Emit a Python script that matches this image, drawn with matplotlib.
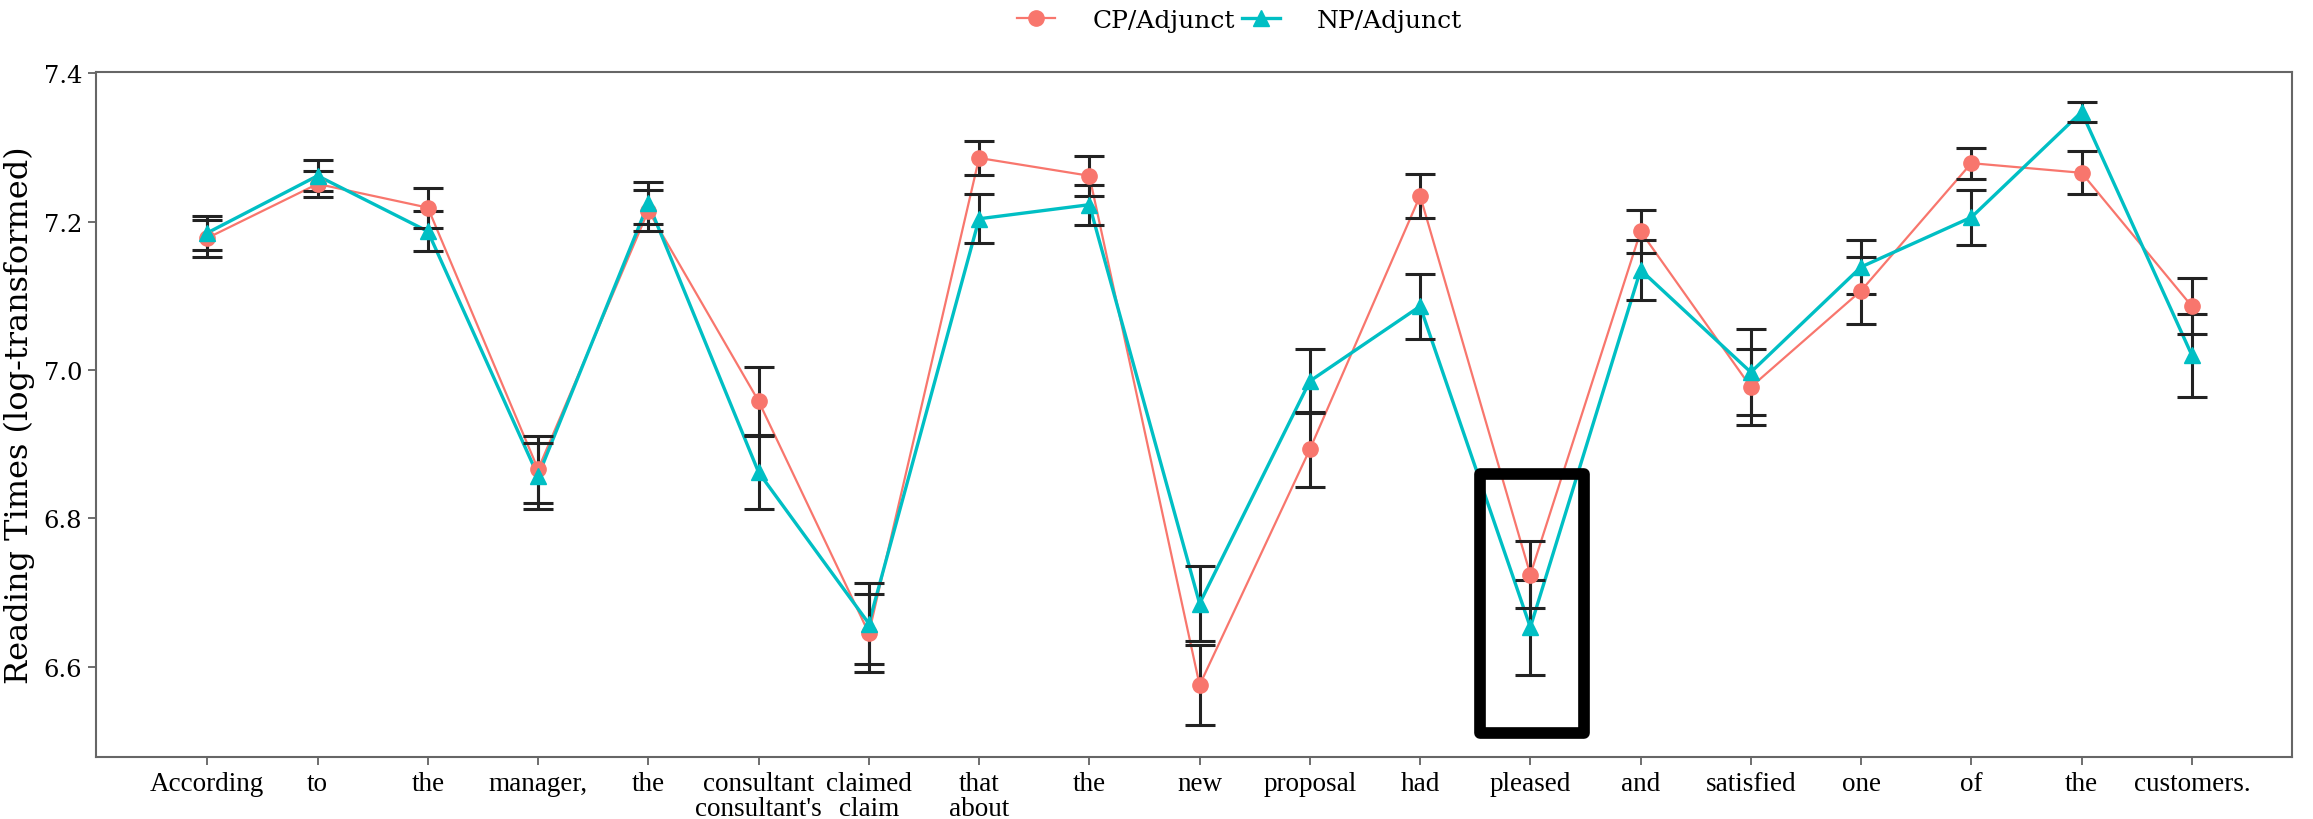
import matplotlib
matplotlib.use("Agg")
import matplotlib.pyplot as plt
from matplotlib.patches import Rectangle
import numpy as np

words = ["According", "to", "the", "manager,", "the", "consultant\nconsultant's",
         "claimed\nclaim", "that\nabout", "the", "new", "proposal", "had", "pleased",
         "and", "satisfied", "one", "of", "the", "customers."]

cp_mean = [7.178, 7.251, 7.219, 6.866, 7.215, 6.958, 6.645, 7.286, 7.262, 6.575,
           6.893, 7.235, 6.724, 7.187, 6.977, 7.107, 7.279, 7.266, 7.086]
cp_se = [0.025, 0.018, 0.027, 0.045, 0.028, 0.046, 0.053, 0.023, 0.027, 0.054,
         0.051, 0.030, 0.045, 0.029, 0.051, 0.045, 0.021, 0.029, 0.038]

np_mean = [7.185, 7.262, 7.187, 6.857, 7.225, 6.862, 6.658, 7.204, 7.223, 6.685,
           6.985, 7.086, 6.653, 7.135, 6.997, 7.139, 7.206, 7.348, 7.020]
np_se = [0.023, 0.021, 0.027, 0.044, 0.028, 0.049, 0.055, 0.033, 0.027, 0.050,
         0.043, 0.044, 0.064, 0.040, 0.058, 0.036, 0.037, 0.013, 0.056]

highlight = "pleased"

cp_col = "#F8766D"
np_col = "#00BFC4"

fig = plt.figure(figsize=(23.13, 8.2), dpi=100)
ax = fig.add_axes([0.0415, 0.0756, 0.9495, 0.8354])

x = np.arange(len(words))

ax.plot(x, cp_mean, color=cp_col, lw=1.6, zorder=2)
ax.plot(x, np_mean, color=np_col, lw=2.4, zorder=2)
ax.errorbar(x, cp_mean, yerr=cp_se, fmt="none", ecolor="#222222", elinewidth=2.2,
            capsize=11, capthick=2.2, zorder=3)
ax.errorbar(x, np_mean, yerr=np_se, fmt="none", ecolor="#222222", elinewidth=2.2,
            capsize=11, capthick=2.2, zorder=3)
ax.plot(x, cp_mean, "o", color=cp_col, ms=11, zorder=4, label="CP/Adjunct")
ax.plot(x, np_mean, "^", color=np_col, ms=12, zorder=4, label="NP/Adjunct")

# box around the critical word
hi = words.index(highlight)
ax.add_patch(Rectangle((hi - 0.455, 6.511), 0.945, 0.349, fill=False,
                       edgecolor="black", lw=8.4, zorder=5, joinstyle="round"))

ax.set_xlim(-1.01, 18.91)
ax.set_ylim(6.478, 7.402)
ax.set_xticks(x)
ax.set_xticklabels(words, family="Liberation Serif", fontsize=19.5, linespacing=1.0)
ax.set_yticks([6.6, 6.8, 7.0, 7.2, 7.4])
ax.set_yticklabels(["6.6", "6.8", "7.0", "7.2", "7.4"], family="DejaVu Serif", fontsize=17.5)
ax.set_ylabel("Reading Times (log-transformed)", family="DejaVu Serif", fontsize=23, labelpad=6)
ax.tick_params(length=6, width=1.2, color="#555555", pad=4)
for s in ax.spines.values():
    s.set_color("#666666")
    s.set_linewidth(1.5)

h1 = plt.Line2D([], [], color=cp_col, lw=1.6, marker="o", ms=11)
h2 = plt.Line2D([], [], color=np_col, lw=2.4, marker="^", ms=12)
fig.legend([h1, h2], ["CP/Adjunct", "NP/Adjunct"], loc="upper center",
           bbox_to_anchor=(0.536, 1.015), ncol=2, frameon=False, handlelength=1.5,
           columnspacing=0.3, handletextpad=1.5, prop={"family": "DejaVu Serif", "size": 18})

fig.savefig("out.png", dpi=100)
